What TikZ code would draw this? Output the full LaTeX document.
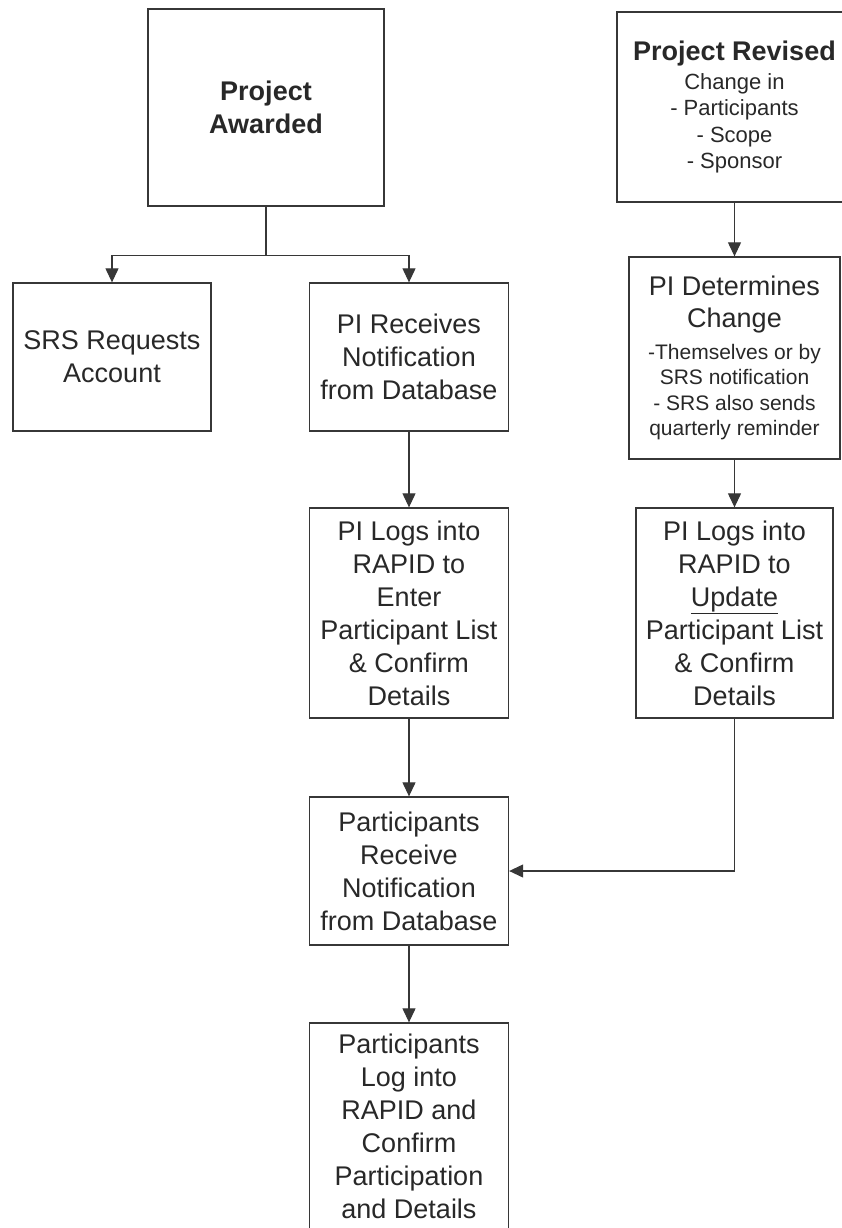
\documentclass[tikz,border=0pt]{standalone}
\usepackage{fontspec}
\setmainfont{Liberation Sans}
\usepackage{tikz}
\usepackage{xcolor}
\usetikzlibrary{arrows.meta, positioning, calc}
\definecolor{cLine}{RGB}{55,55,55}
\definecolor{cText}{RGB}{40,40,40}
\tikzset{
	stepbox/.style ={rectangle, draw=cLine, line width=1.3pt, inner sep=0pt, align=center, text=cText, font=\fontsize{27}{33}\selectfont},
	notebox/.style ={stepbox, font=\fontsize{22}{26.5}\selectfont},
	flowline/.style={line width=1.1pt, draw=cLine},
	flowarrow/.style={flowline, -{Triangle[length=14pt, width=13pt]}},
	% bold title lines
	titletext/.style={font=\bfseries\fontsize{27}{33}\selectfont},
}

\begin{document}
\begin{tikzpicture}[x=1pt, y=-1pt]
	\useasboundingbox (0,0) rectangle (841,1228);
	% left branch
	\node[stepbox, titletext, minimum width=236pt, minimum height=197pt] (awarded) at (266,107.5) {Project\\Awarded};
	\node[stepbox, minimum width=198pt, minimum height=148pt] (srs) at (112,357) {SRS Requests\\Account};
	\node[stepbox, minimum width=199pt, minimum height=148pt] (receives) at (409,357) {PI Receives\\Notification\\from Database};
	\node[stepbox, minimum width=199pt, minimum height=210pt] (enter) at (409,613) {PI Logs into\\RAPID to\\Enter\\Participant List\\\& Confirm\\Details};
	\node[stepbox, minimum width=199pt, minimum height=148pt] (notify) at (409,871) {Participants\\Receive\\Notification\\from Database};
	\node[stepbox, minimum width=199pt, minimum height=207pt] (confirm) at (409,1126.5) {Participants\\Log into\\RAPID and\\Confirm\\Participation\\and Details};
	% right branch
	\node[notebox, minimum width=235pt, minimum height=190pt] (revised) at (734.5,107) {{\bfseries\fontsize{27}{33}\selectfont Project Revised}\\[2.5pt]Change in\\- Participants\\- Scope\\- Sponsor};
	\node[stepbox, font=\fontsize{21}{25.5}\selectfont, minimum width=211pt, minimum height=202pt] (determines) at (734.5,358) {{\fontsize{27}{33}\selectfont PI Determines}\\[6.5pt]{\fontsize{27}{33}\selectfont Change}\\[6.5pt]-Themselves or by\\SRS notification\\- SRS also sends\\quarterly reminder};
	\node[stepbox, minimum width=197pt, minimum height=210pt] (update) at (734.5,613) {PI Logs into\\RAPID to\\\underline{Update}\\Participant List\\\& Confirm\\Details};

	\draw[flowline] (awarded.south) -- ++(0,49) coordinate (split);
	\draw[flowarrow] (split) -| (srs.north);
	\draw[flowarrow] (split) -| (receives.north);
	\draw[flowarrow] (receives) -- (enter);
	\draw[flowarrow] (enter) -- (notify);
	\draw[flowarrow] (notify) -- (confirm);
	\draw[flowarrow] (revised) -- (determines);
	\draw[flowarrow] (determines) -- (update);
	\draw[flowarrow] (update.south) |- (notify.east);
\end{tikzpicture}
\end{document}
